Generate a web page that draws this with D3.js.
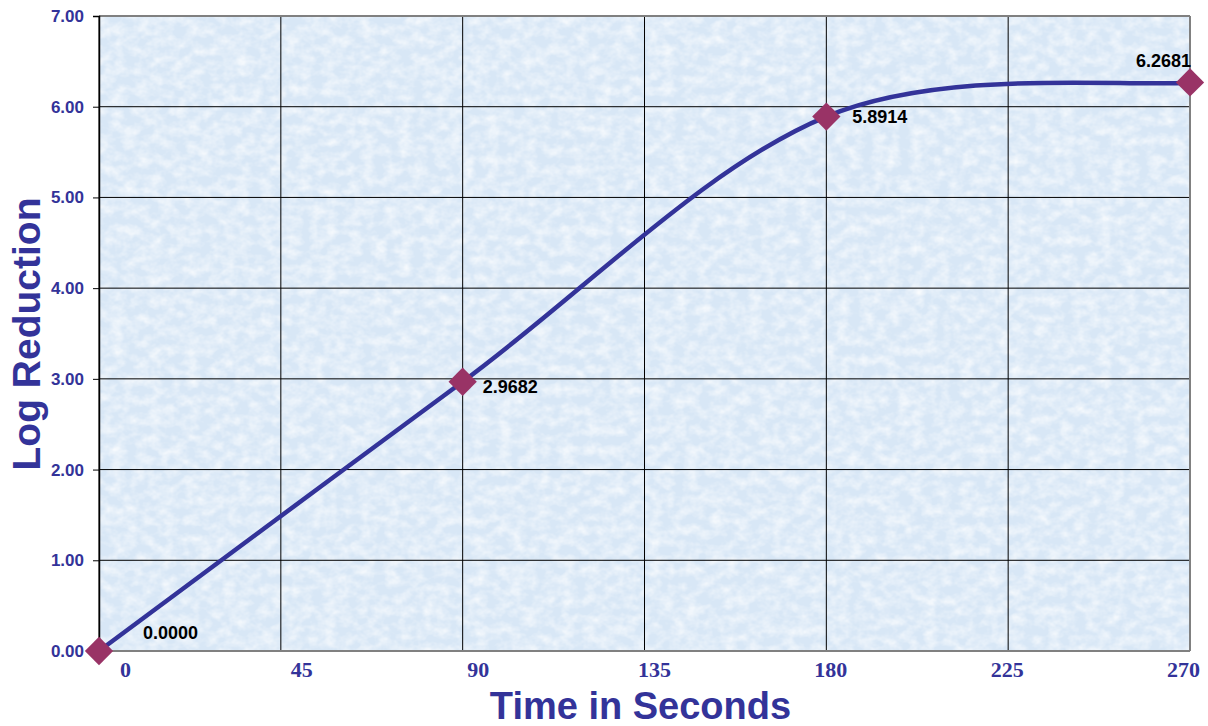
<!DOCTYPE html>
<html>
<head>
<meta charset="utf-8">
<script src="https://cdn.jsdelivr.net/npm/d3@7"></script>
<style>
  body { margin: 0; background: #fff; }
  svg { display: block; }
</style>
</head>
<body>
<div id="chart"></div>
<script>
// data
var times = [0, 90, 180, 270];
var logReduction = [0.0000, 2.9682, 5.8914, 6.2681];
var xTickValues = [0, 45, 90, 135, 180, 225, 270];
var yTickValues = [0, 1, 2, 3, 4, 5, 6, 7];

// hand placed data labels (dx, dy, anchor), like the original
var labelPlace = [[44, -18, "start"], [20, 5, "start"], [26, 0, "start"], [1, -22, "end"]];

var W = 1208, H = 726;
var margin = {top: 16, right: 18, bottom: 75, left: 99},
    width = W - margin.left - margin.right,
    height = H - margin.top - margin.bottom;

var blue = "#333399", marker = "#993366";

// excel style smoothing: catmull-rom, end points doubled
function ExcelSmooth(context) { this._context = context; }
ExcelSmooth.prototype = {
  lineStart: function() { this._pts = []; },
  lineEnd: function() {
    var p = this._pts, n = p.length, c = this._context;
    if (!n) return;
    c.moveTo(p[0][0], p[0][1]);
    for (var i = 0; i < n - 1; i++) {
      var p0 = p[Math.max(i - 1, 0)], p1 = p[i], p2 = p[i + 1], p3 = p[Math.min(i + 2, n - 1)];
      c.bezierCurveTo(
        p1[0] + (p2[0] - p0[0]) / 6, p1[1] + (p2[1] - p0[1]) / 6,
        p2[0] - (p3[0] - p1[0]) / 6, p2[1] - (p3[1] - p1[1]) / 6,
        p2[0], p2[1]);
    }
  },
  areaStart: function() {}, areaEnd: function() {},
  point: function(x, y) { this._pts.push([+x, +y]); }
};
function curveExcel(context) { return new ExcelSmooth(context); }

var svg = d3.select("#chart").append("svg")
    .attr("width", W)
    .attr("height", H);

var defs = svg.append("defs");
var f = defs.append("filter").attr("id", "tex")
    .attr("x", 0).attr("y", 0).attr("width", 1).attr("height", 1);
f.append("feTurbulence")
    .attr("type", "fractalNoise")
    .attr("baseFrequency", "0.08 0.1")
    .attr("numOctaves", 3)
    .attr("seed", 11);
f.append("feColorMatrix")
    .attr("type", "matrix")
    .attr("values", "0 0 0 0 1  0 0 0 0 1  0 0 0 0 1  1.3 0 0 0 -0.45");

var g = svg.append("g")
    .attr("transform", "translate(" + margin.left + "," + margin.top + ")");

var x = d3.scaleLinear().domain([0, 270]).range([0, width]);
var y = d3.scaleLinear().domain([0, 7]).range([height, 0]);
// tick labels in the original sit a bit off the grid lines
var xLabel = d3.scaleLinear().domain([0, 270]).range([26, width - 7]);

// plot background
g.append("rect")
    .attr("width", width).attr("height", height)
    .attr("fill", "#d8e7f6");
g.append("rect")
    .attr("width", width).attr("height", height)
    .attr("filter", "url(#tex)");

// grid
g.append("g")
  .selectAll("line")
  .data(xTickValues)
  .enter().append("line")
    .attr("x1", function(d) { return x(d); })
    .attr("x2", function(d) { return x(d); })
    .attr("y1", 0).attr("y2", height)
    .attr("stroke", "#000").attr("stroke-width", 1);
g.append("g")
  .selectAll("line")
  .data(yTickValues)
  .enter().append("line")
    .attr("x1", 0).attr("x2", width)
    .attr("y1", function(d) { return y(d); })
    .attr("y2", function(d) { return y(d); })
    .attr("stroke", "#000").attr("stroke-width", 1);

// frame
g.append("line").attr("x1", 0).attr("x2", width).attr("y1", 0).attr("y2", 0)
    .attr("stroke", "#808080").attr("stroke-width", 2);
g.append("line").attr("x1", width).attr("x2", width).attr("y1", 0).attr("y2", height)
    .attr("stroke", "#808080").attr("stroke-width", 2);
g.append("line").attr("x1", 0).attr("x2", width).attr("y1", height).attr("y2", height)
    .attr("stroke", "#808080").attr("stroke-width", 2);

// y axis
var yAxis = d3.axisLeft(y)
    .tickValues(yTickValues)
    .tickSize(6)
    .tickPadding(9)
    .tickFormat(d3.format(".2f"));
var ya = g.append("g").call(yAxis);
ya.select(".domain").attr("stroke", "#000").attr("stroke-width", 1.5);
ya.selectAll(".tick line").attr("stroke", "#000");
ya.selectAll("text")
    .attr("fill", blue)
    .style("font-family", "Liberation Sans, Arial, sans-serif")
    .style("font-weight", "bold")
    .style("font-size", "17px");

// x axis labels
var xAxis = d3.axisBottom(xLabel)
    .tickValues(xTickValues)
    .tickSize(0)
    .tickPadding(10);
var xa = g.append("g")
    .attr("transform", "translate(0," + height + ")")
    .call(xAxis);
xa.select(".domain").remove();
xa.selectAll("text")
    .attr("fill", blue)
    .style("font-family", "Liberation Serif, Times New Roman, serif")
    .style("font-weight", "bold")
    .style("font-size", "22px");

// line
var line = d3.line()
    .x(function(d, i) { return x(times[i]); })
    .y(function(d) { return y(d); })
    .curve(curveExcel);
g.append("path")
    .datum(logReduction)
    .attr("d", line)
    .attr("fill", "none")
    .attr("stroke", blue)
    .attr("stroke-width", 4.5);

// markers
g.selectAll(".pt")
    .data(logReduction)
  .enter().append("path")
    .attr("class", "pt")
    .attr("d", d3.symbol().type(d3.symbolSquare).size(400))
    .attr("transform", function(d, i) {
      return "translate(" + x(times[i]) + "," + y(d) + ") rotate(45)";
    })
    .attr("fill", marker);

// data labels
g.selectAll(".lbl")
    .data(logReduction)
  .enter().append("text")
    .attr("class", "lbl")
    .attr("x", function(d, i) { return x(times[i]) + labelPlace[i][0]; })
    .attr("y", function(d, i) { return y(d) + labelPlace[i][1]; })
    .attr("dy", "0.36em")
    .attr("text-anchor", function(d, i) { return labelPlace[i][2]; })
    .style("font-family", "Liberation Sans, Arial, sans-serif")
    .style("font-weight", "bold")
    .style("font-size", "18px")
    .attr("fill", "#000")
    .text(function(d) { return d3.format(".4f")(d); });

// titles
svg.append("text")
    .attr("x", margin.left + width / 2 - 4)
    .attr("y", 719)
    .attr("text-anchor", "middle")
    .style("font-family", "Liberation Sans, Arial, sans-serif")
    .style("font-weight", "bold")
    .style("font-size", "38px")
    .attr("fill", blue)
    .text("Time in Seconds");

svg.append("text")
    .attr("transform", "translate(40,334) rotate(-90)")
    .attr("text-anchor", "middle")
    .style("font-family", "Liberation Sans, Arial, sans-serif")
    .style("font-weight", "bold")
    .style("font-size", "39px")
    .attr("fill", blue)
    .text("Log Reduction");
</script>
</body>
</html>
